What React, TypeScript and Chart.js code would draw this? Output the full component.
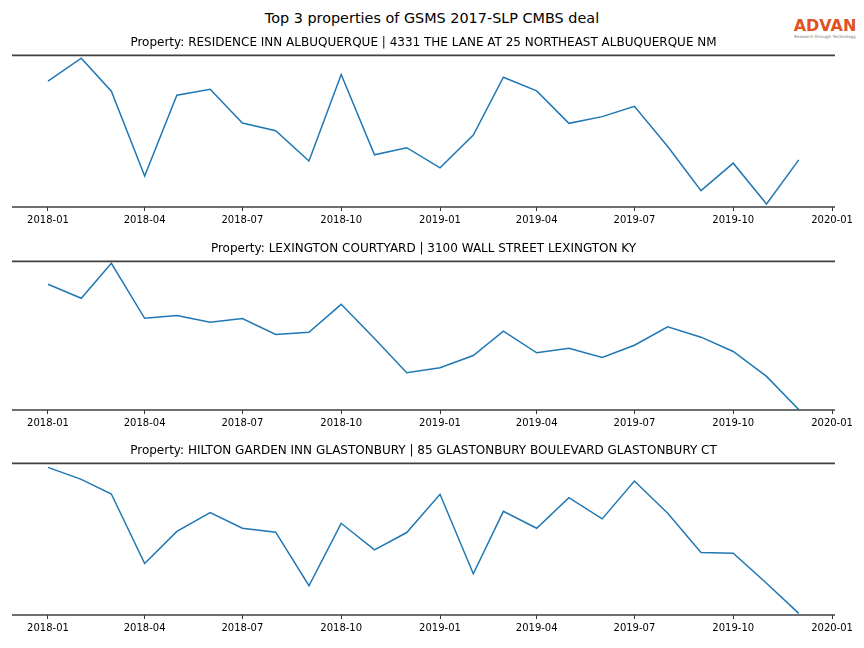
import React, { useEffect, useRef } from "react";
import { Chart, registerables } from "chart.js";

Chart.register(...registerables);

const months = [
  "2018-01", "2018-02", "2018-03", "2018-04", "2018-05", "2018-06",
  "2018-07", "2018-08", "2018-09", "2018-10", "2018-11", "2018-12",
  "2019-01", "2019-02", "2019-03", "2019-04", "2019-05", "2019-06",
  "2019-07", "2019-08", "2019-09", "2019-10", "2019-11", "2019-12",
];

const tickLabels = [
  "2018-01", "2018-04", "2018-07", "2018-10",
  "2019-01", "2019-04", "2019-07", "2019-10", "2020-01",
];

const residenceInn = [
  83.0, 98.2, 76.4, 20.5, 73.7, 77.7, 55.4, 50.3, 30.3, 87.4, 34.4, 39.1,
  25.8, 47.5, 85.6, 76.6, 55.2, 59.6, 66.4, 39.9, 10.8, 28.9, 2.0, 31.1,
];

const lexington = [
  84.6, 75.2, 98.7, 61.7, 63.6, 59.1, 61.5, 50.8, 52.3, 71.1, 48.1, 25.1,
  28.5, 36.7, 53.0, 38.5, 41.6, 35.4, 43.6, 56.0, 49.0, 39.4, 22.6, 0.3,
];

const hiltonGarden = [
  97.4, 89.5, 79.8, 34.0, 55.1, 67.6, 57.2, 54.6, 19.3, 60.5, 43.0, 54.4,
  79.6, 27.2, 68.4, 57.2, 77.4, 63.4, 88.4, 67.1, 41.2, 40.8, 20.9, 1.1,
];

const titles = [
  "Property: RESIDENCE INN ALBUQUERQUE | 4331 THE LANE AT 25 NORTHEAST ALBUQUERQUE NM",
  "Property: LEXINGTON COURTYARD | 3100 WALL STREET LEXINGTON KY",
  "Property: HILTON GARDEN INN GLASTONBURY | 85 GLASTONBURY BOULEVARD GLASTONBURY CT",
];

const seriesList = [residenceInn, lexington, hiltonGarden];

const toDay = (ym: string, day = 1) => {
  const [y, m] = ym.split("-").map(Number);
  return Date.UTC(y, m - 1, day) / 86400000;
};

const X_MIN = Date.UTC(2017, 10, 28, 12) / 86400000;
const X_MAX = Date.UTC(2020, 0, 3, 18) / 86400000;

const spinePlugin = {
  id: "spines",
  afterDraw(chart: any) {
    const { ctx, chartArea } = chart;
    ctx.save();
    ctx.strokeStyle = "#404040";
    ctx.lineWidth = 1.6;
    ctx.beginPath();
    ctx.moveTo(chartArea.left, chartArea.top);
    ctx.lineTo(chartArea.right, chartArea.top);
    ctx.moveTo(chartArea.left, chartArea.bottom);
    ctx.lineTo(chartArea.right, chartArea.bottom);
    ctx.stroke();
    ctx.restore();
  },
};

const FONT = "'DejaVu Sans', sans-serif";

function Panel({ title, values, top, height }: { title: string; values: number[]; top: number; height: number }) {
  const ref = useRef<HTMLCanvasElement>(null);
  useEffect(() => {
    if (!ref.current) return;
    const chart = new Chart(ref.current, {
      type: "line",
      data: {
        datasets: [
          {
            data: months.map((m, i) => ({ x: toDay(m), y: values[i] })),
            borderColor: "#1f77b4",
            borderWidth: 1.5,
            pointRadius: 0,
            tension: 0,
            fill: false,
          },
        ],
      },
      options: {
        animation: false,
        responsive: false,
        maintainAspectRatio: false,
        layout: { padding: { left: 12, right: 29, top: 0, bottom: 0 } },
        plugins: {
          legend: { display: false },
          tooltip: { enabled: false },
          title: {
            display: true,
            text: title,
            color: "#000",
            font: { family: FONT, size: 12, weight: "normal" },
            padding: { top: 5, bottom: 5 },
          },
        },
        scales: {
          x: {
            type: "linear",
            min: X_MIN,
            max: X_MAX,
            afterBuildTicks: (axis: any) => {
              axis.ticks = tickLabels.map((t) => ({ value: toDay(t) }));
            },
            ticks: {
              autoSkip: false,
              maxRotation: 0,
              color: "#000",
              padding: 3,
              font: { family: FONT, size: 10 },
              callback: (v: any) => {
                const d = new Date(Number(v) * 86400000);
                return `${d.getUTCFullYear()}-${String(d.getUTCMonth() + 1).padStart(2, "0")}`;
              },
            },
            grid: {
              display: true,
              drawOnChartArea: false,
              drawTicks: true,
              tickLength: 4,
              color: "#000",
              lineWidth: 0.8,
            },
            border: { display: false },
          },
          y: {
            display: false,
            min: 0,
            max: 100,
          },
        },
      },
      plugins: [spinePlugin],
    });
    return () => chart.destroy();
  }, [title, values]);
  return (
    <canvas
      ref={ref}
      width={864}
      height={height}
      style={{ position: "absolute", left: 0, top, width: 864, height }}
    />
  );
}

export default function App() {
  const tops = [31, 236.6, 438.6];
  const bottoms = [229, 432, 637];
  return (
    <div style={{ position: "fixed", left: 0, top: 0, width: 864, height: 648, background: "#fff", overflow: "hidden" }}>
      <div
        style={{
          position: "absolute",
          top: 10,
          left: 0,
          width: 864,
          textAlign: "center",
          fontFamily: FONT,
          fontSize: 14.4,
          color: "#000",
        }}
      >
        Top 3 properties of GSMS 2017-SLP CMBS deal
      </div>
      <div style={{ position: "absolute", left: 789, top: 17, width: 72, textAlign: "center" }}>
        <div style={{ fontFamily: FONT, fontSize: 16, fontWeight: 700, color: "#e0521f", lineHeight: "17px" }}>
          ADVAN
        </div>
        <div style={{ fontFamily: FONT, fontSize: 4.2, color: "#777", lineHeight: "6px", whiteSpace: "nowrap" }}>
          Research through Technology
        </div>
      </div>
      {seriesList.map((vals, i) => (
        <Panel key={i} title={titles[i]} values={vals} top={tops[i]} height={Math.round(bottoms[i] - tops[i])} />
      ))}
    </div>
  );
}
